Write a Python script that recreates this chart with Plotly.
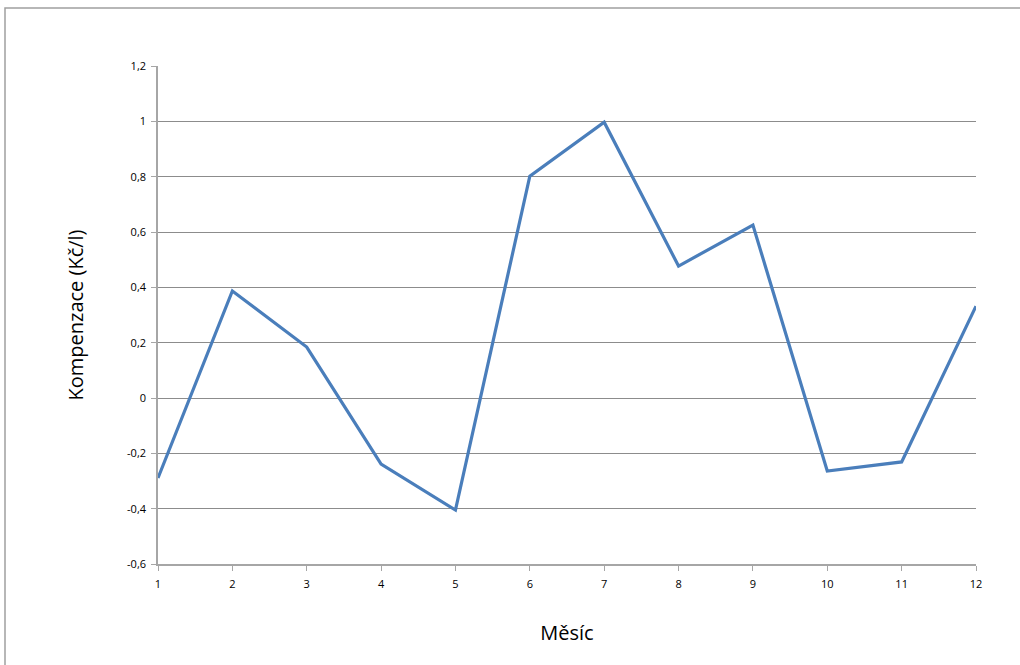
import plotly.graph_objects as go

# Monthly compensation values (Kč/l)
months = [1, 2, 3, 4, 5, 6, 7, 8, 9, 10, 11, 12]
compensation = [-0.289, 0.387, 0.184, -0.239, -0.405, 0.802, 0.997, 0.477, 0.625, -0.264, -0.231, 0.332]

y_ticks = [-0.6, -0.4, -0.2, 0, 0.2, 0.4, 0.6, 0.8, 1.0, 1.2]
y_tick_labels = ["-0,6", "-0,4", "-0,2", "0", "0,2", "0,4", "0,6", "0,8", "1", "1,2"]

W, H = 1020, 665
L, R, T, B = 158, 44, 66, 101
plot_w = W - L - R
plot_h = H - T - B

fig = go.Figure()
fig.add_trace(go.Scatter(
    x=months, y=compensation, mode="lines",
    line=dict(color="#4a7ebb", width=3.2),
    hoverinfo="x+y", showlegend=False,
))

font_family = "Open Sans, Noto Sans, sans-serif"

fig.update_layout(
    width=W, height=H,
    margin=dict(l=L, r=R, t=T, b=B, autoexpand=False),
    paper_bgcolor="white", plot_bgcolor="white",
    font=dict(family=font_family, color="#000000"),
    xaxis=dict(
        range=[1, 12], tickmode="array", tickvals=months,
        ticktext=[str(m) for m in months],
        showgrid=False, zeroline=False,
        showline=True, linecolor="#a6a6a6", linewidth=1.5,
        ticks="outside", ticklen=5, tickcolor="#a6a6a6", tickwidth=1,
        ticklabelstandoff=4,
        tickfont=dict(size=11, family=font_family, color="#000000"),
        title=dict(text="Měsíc", font=dict(size=20, family=font_family), standoff=36),
    ),
    yaxis=dict(
        range=[-0.6, 1.2], tickmode="array", tickvals=y_ticks, ticktext=y_tick_labels,
        showgrid=True, gridcolor="#8c8c8c", gridwidth=1,
        zeroline=False,
        showline=True, linecolor="#a6a6a6", linewidth=1.5,
        ticks="outside", ticklen=5, tickcolor="#a6a6a6", tickwidth=1,
        ticklabelstandoff=3,
        tickfont=dict(size=11, family=font_family, color="#000000"),
        title=dict(text="Kompenzace (Kč/l)", font=dict(size=20, family=font_family), standoff=38),
    ),
)

# Outer chart frame
def px_x(p):
    return (p - L) / plot_w

def px_y(p):
    return (H - B - p) / plot_h

fig.add_shape(
    type="rect", xref="paper", yref="paper",
    x0=px_x(5), x1=px_x(1030), y0=px_y(675), y1=px_y(8),
    line=dict(color="#a0a0a0", width=1.5), fillcolor="rgba(0,0,0,0)",
    layer="below",
)

fig.write_html("out.html")
